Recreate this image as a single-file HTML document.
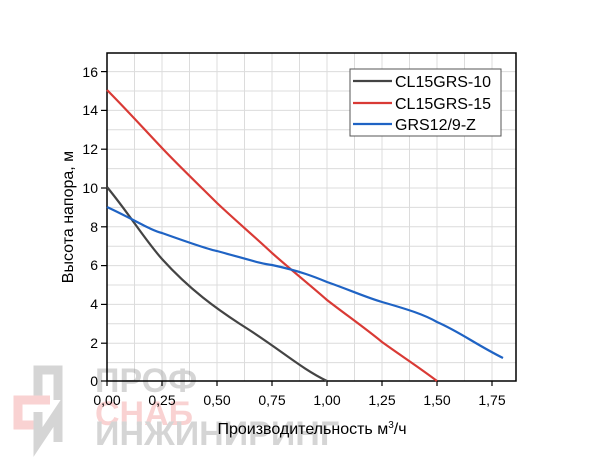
<!DOCTYPE html><html><head><style>body{margin:0;background:#fff}svg{display:block}text{font-family:"Liberation Sans",sans-serif}</style></head><body>
<svg width="600" height="459" xmlns="http://www.w3.org/2000/svg">
<g stroke="#dcdcdc">
<line x1="134.5" y1="53" x2="134.5" y2="381"/><line x1="162" y1="53" x2="162" y2="381"/><line x1="189.5" y1="53" x2="189.5" y2="381"/><line x1="217" y1="53" x2="217" y2="381"/><line x1="244.5" y1="53" x2="244.5" y2="381"/><line x1="272" y1="53" x2="272" y2="381"/><line x1="299.5" y1="53" x2="299.5" y2="381"/><line x1="327" y1="53" x2="327" y2="381"/><line x1="354.5" y1="53" x2="354.5" y2="381"/><line x1="382" y1="53" x2="382" y2="381"/><line x1="409.5" y1="53" x2="409.5" y2="381"/><line x1="437" y1="53" x2="437" y2="381"/><line x1="464.5" y1="53" x2="464.5" y2="381"/><line x1="492" y1="53" x2="492" y2="381"/>
<line x1="107" y1="362.6" x2="516" y2="362.6"/><line x1="107" y1="343.2" x2="516" y2="343.2"/><line x1="107" y1="323.8" x2="516" y2="323.8"/><line x1="107" y1="304.4" x2="516" y2="304.4"/><line x1="107" y1="285" x2="516" y2="285"/><line x1="107" y1="265.6" x2="516" y2="265.6"/><line x1="107" y1="246.2" x2="516" y2="246.2"/><line x1="107" y1="226.8" x2="516" y2="226.8"/><line x1="107" y1="207.4" x2="516" y2="207.4"/><line x1="107" y1="188" x2="516" y2="188"/><line x1="107" y1="168.6" x2="516" y2="168.6"/><line x1="107" y1="149.2" x2="516" y2="149.2"/><line x1="107" y1="129.8" x2="516" y2="129.8"/><line x1="107" y1="110.4" x2="516" y2="110.4"/><line x1="107" y1="91" x2="516" y2="91"/><line x1="107" y1="71.6" x2="516" y2="71.6"/>
</g>
<g opacity="0.35">
<text x="95" y="392" font-size="34" fill="#888" font-weight="bold">ПРОФ</text>
<text x="95" y="425" font-size="34" fill="#f08080" font-weight="bold">СНАБ</text>
<text x="95" y="445" font-size="34" fill="#888" font-weight="bold">ИНЖИНИРИНГ</text>
<path d="M38 400 V370 H58 V400" fill="none" stroke="#888" stroke-width="9"/>
<path d="M50 400 H18 V425 H40" fill="none" stroke="#f08080" stroke-width="9"/>
<path d="M38 412 V442 L58 412 V442" fill="none" stroke="#888" stroke-width="9"/>
</g>
<rect x="107" y="53" width="409" height="328" fill="none" stroke="#000" stroke-width="1.5"/>
<g stroke="#000" stroke-width="1.2">
<line x1="107" y1="381" x2="107" y2="386"/><line x1="162" y1="381" x2="162" y2="386"/><line x1="217" y1="381" x2="217" y2="386"/><line x1="272" y1="381" x2="272" y2="386"/><line x1="327" y1="381" x2="327" y2="386"/><line x1="382" y1="381" x2="382" y2="386"/><line x1="437" y1="381" x2="437" y2="386"/><line x1="492" y1="381" x2="492" y2="386"/>
<line x1="101" y1="381" x2="107" y2="381"/><line x1="101" y1="343.2" x2="107" y2="343.2"/><line x1="101" y1="304.4" x2="107" y2="304.4"/><line x1="101" y1="265.6" x2="107" y2="265.6"/><line x1="101" y1="226.8" x2="107" y2="226.8"/><line x1="101" y1="188" x2="107" y2="188"/><line x1="101" y1="149.2" x2="107" y2="149.2"/><line x1="101" y1="110.4" x2="107" y2="110.4"/><line x1="101" y1="71.6" x2="107" y2="71.6"/>
</g>
<g font-size="14" fill="#000" text-anchor="end">
<text x="98" y="386">0</text><text x="98" y="348">2</text><text x="98" y="309">4</text><text x="98" y="270">6</text><text x="98" y="232">8</text><text x="98" y="193">10</text><text x="98" y="154">12</text><text x="98" y="115">14</text><text x="98" y="77">16</text>
</g>
<g font-size="14" fill="#000" text-anchor="middle">
<text x="107" y="405">0,00</text><text x="162" y="405">0,25</text><text x="217" y="405">0,50</text><text x="272" y="405">0,75</text><text x="327" y="405">1,00</text><text x="382" y="405">1,25</text><text x="437" y="405">1,50</text><text x="492" y="405">1,75</text>
</g>
<text x="312" y="434" font-size="16" text-anchor="middle">Производительность м<tspan font-size="10" dy="-6">3</tspan><tspan dy="6">/ч</tspan></text>
<text transform="translate(73 217) rotate(-90)" font-size="16" text-anchor="middle">Высота напора, м</text>
<g fill="none" stroke-width="2.2" stroke-linejoin="round">
<path d="M107 187 C130 215 145 240 162 259 C190 290 217 309 240 324 C280 349 300 368 327 381" stroke="#444"/>
<path d="M107 90 C125 108 145 130 162 148 C180 167 200 186 217 203 C235 220 255 237 272 253 C290 269 310 285 327 300 C345 314 365 328 382 342 C400 355 420 368 437 381" stroke="#d93a35"/>
<path d="M107 207 C135 220 150 230 162 233 C190 243 210 250 217 251 C250 260 262 264 272 265 C300 271 315 277 327 282 C350 290 365 297 382 302 C410 310 425 315 437 322 C460 332 475 344 503 358" stroke="#1f63c4"/>
</g>
<rect x="350" y="69" width="151" height="67" fill="#fff" stroke="#555" stroke-width="1"/>
<g stroke-width="2.2"><line x1="353" y1="81" x2="392" y2="81" stroke="#444"/><line x1="353" y1="103" x2="392" y2="103" stroke="#d93a35"/><line x1="353" y1="124" x2="392" y2="124" stroke="#1f63c4"/></g>
<g font-size="16"><text x="395" y="87">CL15GRS-10</text><text x="395" y="109">CL15GRS-15</text><text x="395" y="130">GRS12/9-Z</text></g>
</svg>
</body></html>
